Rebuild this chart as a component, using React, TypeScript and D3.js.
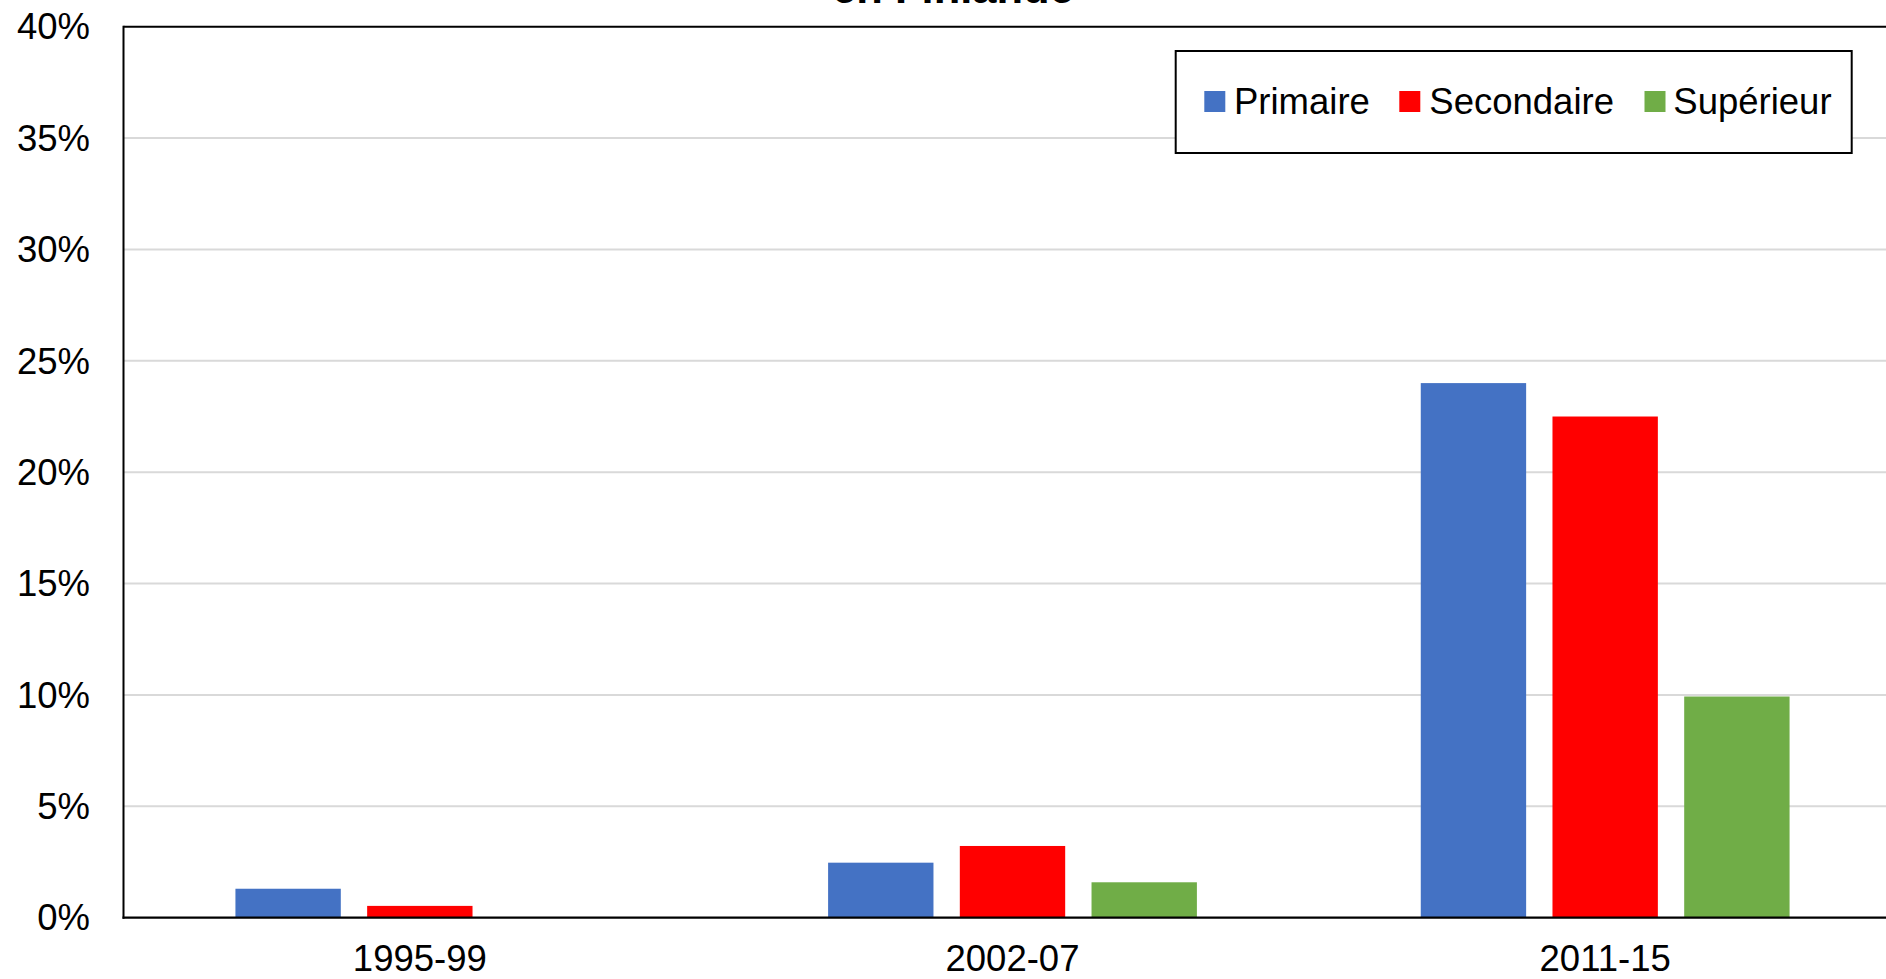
import React from "react";
import * as d3 from "d3";

const categories = ["1995-99", "2002-07", "2011-15"];
const seriesNames = ["Primaire", "Secondaire", "Supérieur"];
const primaire = [1.3, 2.47, 24.0];
const secondaire = [0.53, 3.22, 22.5];
const superieur = [null, 1.59, 9.93];
const yTicks = [0, 5, 10, 15, 20, 25, 30, 35, 40];
const colors = ["#4472C4", "#FF0000", "#70AD47"];
const titleText = "en Finlande";

const W = 1886;
const H = 979;
const FONT = "'Liberation Sans', Arial, sans-serif";

export default function App() {
  const values = [primaire, secondaire, superieur];
  const left = 123.5;
  const right = 1901.5;
  const top = 26.7;
  const bottom = 917.7;

  const x0 = d3.scaleBand<string>().domain(categories).range([left, right]).padding(0);
  const groupW = 368.8;
  const x1 = d3.scaleBand<string>().domain(seriesNames).range([0, groupW]).paddingInner(0.2).paddingOuter(0);
  const y = d3.scaleLinear().domain([0, 40]).range([bottom, top]);

  const legendX = 1175.7;
  const legendY = 51;
  const legendW = 676;
  const legendH = 102;
  const legendItems = [
    { sq: 1204.3, tx: 1234 },
    { sq: 1399.3, tx: 1429.3 },
    { sq: 1644.5, tx: 1673.3 },
  ];

  return (
    <svg
      width={W}
      height={H}
      style={{ position: "absolute", left: 0, top: 0, background: "#fff" }}
      fontFamily={FONT}
    >
      <rect x={0} y={0} width={W} height={H} fill="#fff" />
      {/* gridlines */}
      {yTicks.filter((t) => t > 0 && t < 40).map((t) => (
        <line key={t} x1={left} x2={W} y1={y(t)} y2={y(t)} stroke="#D9D9D9" strokeWidth={2} />
      ))}
      {/* bars */}
      {categories.map((c, ci) => {
        const gx = (x0(c) as number) + (x0.bandwidth() - groupW) / 2;
        return seriesNames.map((s, si) => {
          const v = values[si][ci];
          if (v == null) return null;
          return (
            <rect
              key={c + s}
              x={gx + (x1(s) as number)}
              y={y(v)}
              width={x1.bandwidth()}
              height={y(0) - y(v)}
              fill={colors[si]}
            />
          );
        });
      })}
      {/* top border and axes */}
      <line x1={left} x2={W} y1={top} y2={top} stroke="#000" strokeWidth={2} />
      <line x1={left} x2={left} y1={top - 1} y2={bottom + 1} stroke="#000" strokeWidth={2} />
      <line x1={left - 1} x2={W} y1={bottom} y2={bottom} stroke="#000" strokeWidth={2.2} />
      {/* y tick labels */}
      {yTicks.map((t) => (
        <text key={t} x={90} y={y(t)} dy="0.35em" textAnchor="end" fontSize={36.5} fill="#000">
          {t}%
        </text>
      ))}
      {/* x labels */}
      {categories.map((c) => (
        <text
          key={c}
          x={(x0(c) as number) + x0.bandwidth() / 2}
          y={971}
          textAnchor="middle"
          fontSize={36.5}
          fill="#000"
        >
          {c}
        </text>
      ))}
      {/* title (partly cut off, as in the reference) */}
      <text x={953} y={3} textAnchor="middle" fontSize={43.5} fontWeight="bold" fill="#000">
        {titleText}
      </text>
      {/* legend */}
      <rect x={legendX} y={legendY} width={legendW} height={legendH} fill="#fff" stroke="#000" strokeWidth={2} />
      {seriesNames.map((s, i) => (
        <g key={s}>
          <rect x={legendItems[i].sq} y={91} width={21} height={21} fill={colors[i]} />
          <text x={legendItems[i].tx} y={114} fontSize={36.5} fill="#000">
            {s}
          </text>
        </g>
      ))}
    </svg>
  );
}
